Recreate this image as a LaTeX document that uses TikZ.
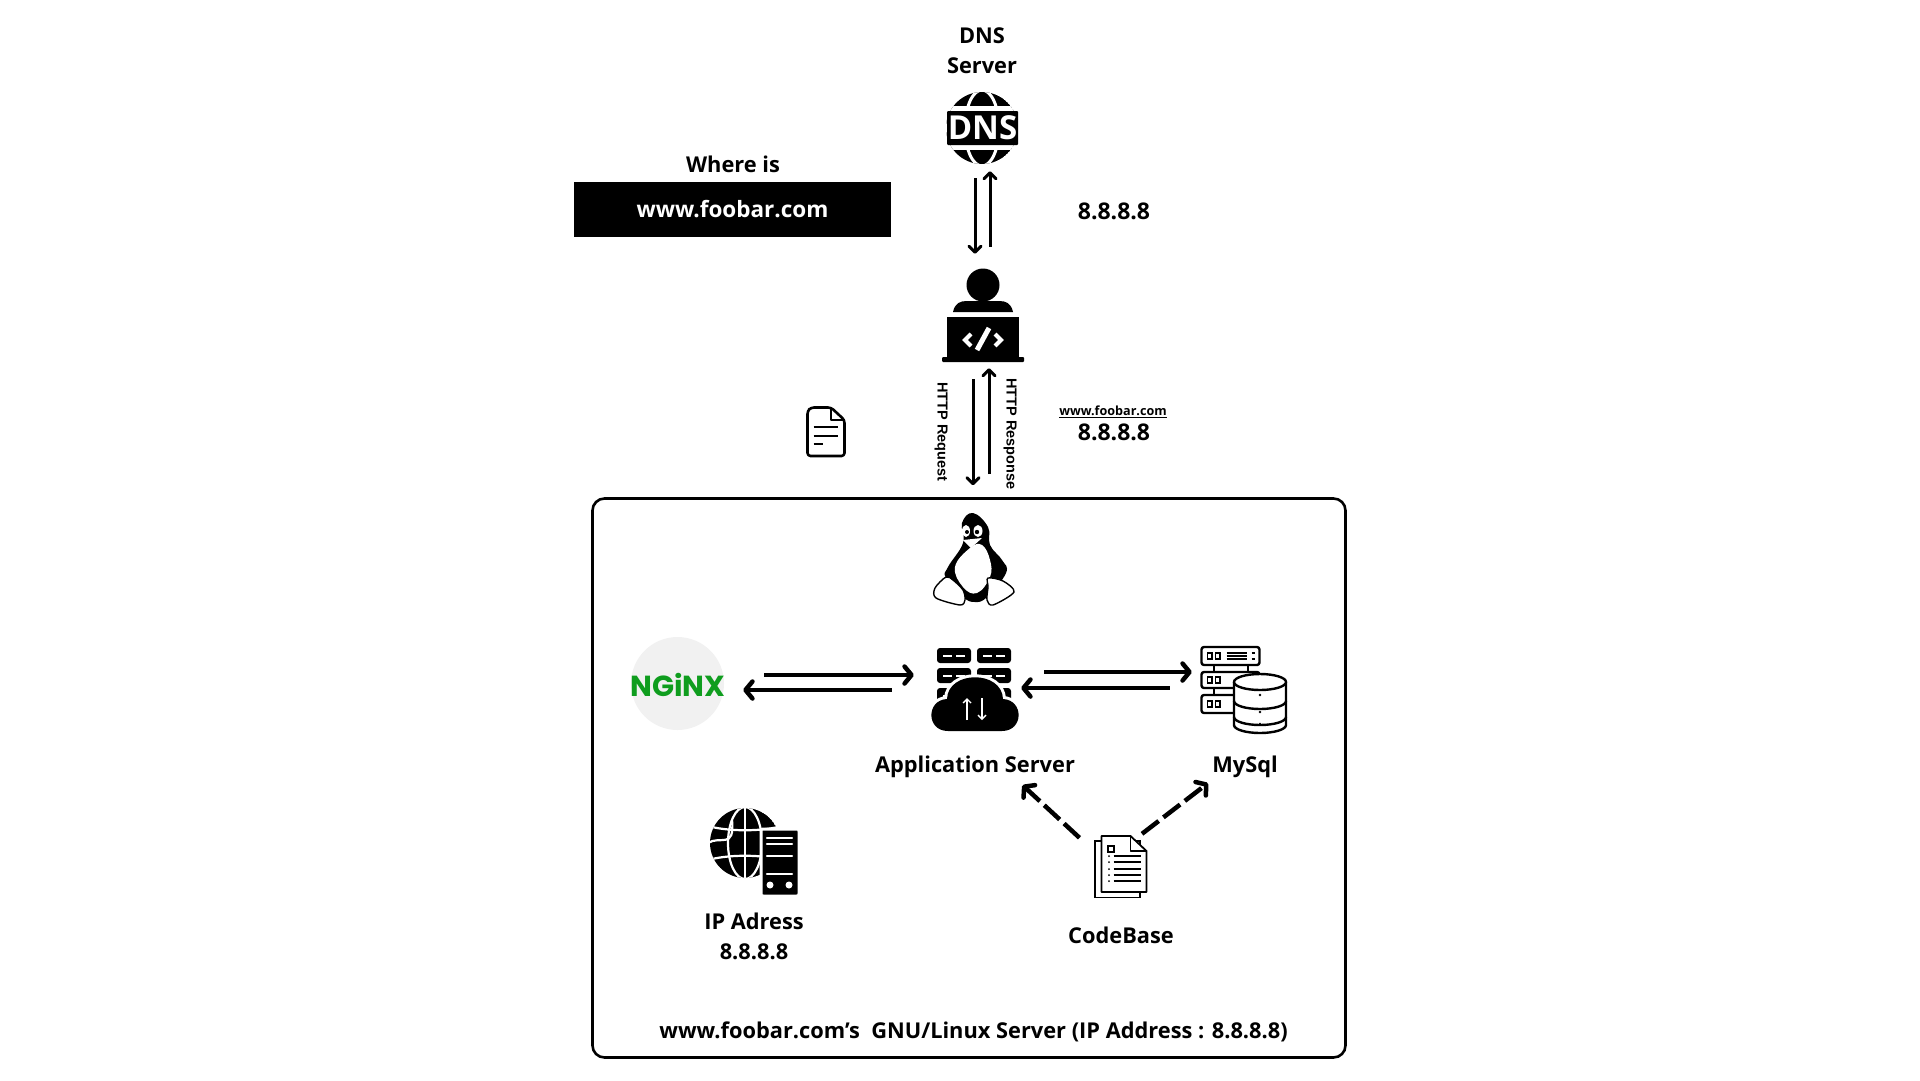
\documentclass[tikz,border=0pt]{standalone}
\usepackage{fontspec}
\setmainfont{Open Sans}
\newfontfamily\httpfont{Liberation Sans}
\newfontfamily\nginxfont{Poppins}
\usepackage{tikz}
\usetikzlibrary{arrows.meta}
\definecolor{nginxgreen}{HTML}{0F9D1E}
\definecolor{nginxgrey}{HTML}{F1F1F1}
\tikzset{
  lbl/.style={inner sep=0,align=center,font=\fontsize{21.8}{30}\selectfont\bfseries},
  iplbl/.style={inner sep=0,align=center,font=\fontsize{23}{30}\selectfont\bfseries},
  iconbox/.style={inner sep=0,minimum width=#1},
  thinarrow/.style={line width=3pt,-{Straight Barb[length=6pt,width=12pt,round]}},
  fatarrow/.style={line width=4.5pt,-{Straight Barb[length=7pt,width=17pt,round]}},
  dasharrow/.style={fatarrow,dash pattern=on 21pt off 6pt},
  httptxt/.style={inner sep=0,rotate=-90,font=\fontsize{14.5}{16}\selectfont\httpfont\bfseries},
  outline/.style={draw=black,line width=2.4pt,fill=white,line join=round}
}
\newcommand{\lblnode}{\node[lbl]}
\newcommand{\iconnode}[1]{\node[iconbox=#1]}
\newcommand{\cloudshape}{(948,731) .. controls (926,731) and (926,700) .. (947,699)
  .. controls (948,670) and (1002,670) .. (1003,699)
  .. controls (1024,700) and (1024,731) .. (1002,731) -- cycle}
\begin{document}
\begin{tikzpicture}[x=1pt,y=-1pt]
  \useasboundingbox (0,0) rectangle (1920,1080);
  % server frame
  \node[draw=black,line width=2.6pt,rounded corners=12pt,minimum width=753pt,minimum height=559pt,inner sep=0] (frame) at (969,778) {};
  % icon places
  \iconnode{72pt}[minimum height=72pt] (dns) at (982,128) {};
  \iconnode{82pt}[minimum height=93pt] (dev) at (983,314.5) {};
  \iconnode{93pt}[minimum height=93pt] (nginx) at (677.5,683.5) {};
  \iconnode{84pt}[minimum height=84pt] (app) at (975,689) {};
  \iconnode{86pt}[minimum height=86pt] (mysql) at (1246,690) {};
  \iconnode{52pt}[minimum height=62pt] (code) at (1123,867) {};
  % labels
  \lblnode (dnslbl) at (982,50.5) {DNS\\Server};
  \lblnode (whereis) at (733,164.5) {Where is};
  \node[fill=black,text=white,lbl,font=\fontsize{22.5}{30}\selectfont\bfseries,minimum width=317pt,minimum height=55pt] (url) at (732.5,209.5) {www.foobar.com};
  \node[iplbl] (ipa) at (1114,211) {8.8.8.8};
  \node[iplbl] (ipb) at (1114,432.5) {8.8.8.8};
  \node[inner sep=0,font=\fontsize{12.6}{15}\selectfont\bfseries] (urlb) at (1113,412) {\underline{www.foobar.com}};
  \node[httptxt] (req) at (941,432) {HTTP Request};
  \node[httptxt] (resp) at (1010,434) {HTTP Response};
  \lblnode (applbl) at (975,767) {Application Server};
  \lblnode (sqllbl) at (1245,767) {MySql};
  \lblnode (iplbl) at (754,936) {IP Adress\\8.8.8.8};
  \lblnode (codelbl) at (1121,935.5) {CodeBase};
  \node[lbl,inner sep=0] (framelbl) at (973.5,1032) {www.foobar.com’s\ \ GNU/Linux Server (IP Address : 8.8.8.8)};
  % connectors
  \draw[thinarrow] ([xshift=-7pt,yshift=-14pt]dns.south) -- ([xshift=-8pt,yshift=14pt]dev.north);
  \draw[thinarrow] ([xshift=7pt,yshift=21pt]dev.north) -- ([xshift=8pt,yshift=-7pt]dns.south);
  \draw[thinarrow] ([xshift=-10pt,yshift=-18pt]dev.south) -- ([xshift=4pt,yshift=12pt]frame.north);
  \draw[thinarrow] ([xshift=20pt,yshift=23pt]frame.north) -- ([xshift=6pt,yshift=-7pt]dev.south);
  \draw[fatarrow] ([xshift=40pt,yshift=8.5pt]nginx.east) -- ([xshift=-19pt,yshift=14pt]app.west);
  \draw[fatarrow] ([xshift=-41pt,yshift=-1pt]app.west) -- ([xshift=19pt,yshift=-6.5pt]nginx.east);
  \draw[fatarrow] ([yshift=17pt,xshift=27pt]app.east) -- ([yshift=18pt,xshift=-11pt]mysql.west);
  \draw[fatarrow] ([yshift=2pt,xshift=-33pt]mysql.west) -- ([yshift=1pt,xshift=4pt]app.east);
  \draw[dasharrow] ([xshift=-43.5pt,yshift=-2pt]code.north) -- ([xshift=47.5pt,yshift=-7pt]applbl.south);
  \draw[dasharrow] ([xshift=19pt,yshift=2pt]code.north) -- ([xshift=-37pt,yshift=-5pt]sqllbl.south);
  % dns globe
  \begin{scope}
    \clip (982,128) circle[radius=36];
    \fill (982,128) circle[radius=36];
    \draw[white,line width=3pt] (982,128) ellipse[x radius=17,y radius=38];
    \fill[white] (940,106) rectangle (1024,150);
  \end{scope}
  \fill[rounded corners=1pt] (947,111) rectangle (1018,145);
  \node[inner sep=0,text=white,font=\fontsize{33}{33}\selectfont\bfseries] (dnstxt) at (982.5,128) {DNS};
  % developer
  \fill (983,285) circle[radius=16.5];
  \fill (953,312) .. controls (955,303) and (960,301) .. (967,301) -- (999,301) .. controls (1006,301) and (1011,303) .. (1013,312) -- cycle;
  \fill (947,317) rectangle (1019,357);
  \fill[rounded corners=1pt] (942,357) rectangle (1024,362);
  \draw[white,line width=4pt] (971,334) -- (965,340) -- (971,346);
  \draw[white,line width=4pt] (995,334) -- (1001,340) -- (995,346);
  \draw[white,line width=5pt] (977,350) -- (989,328);
  % document
  \draw[line width=2.6pt,rounded corners=3pt,line join=round] (831,407.5) -- (811,407.5) -- (807.5,411) -- (807.5,456) -- (844.5,456) -- (844.5,420) -- cycle;
  \draw[line width=2.6pt,line join=round] (831,407.5) -- (831,420) -- (844.5,420);
  \foreach \ly/\lx in {427/838,436/838,444/823}
    \draw[line width=2.6pt] (813.5,\ly) -- (\lx,\ly);
  % penguin
  \fill plot[smooth cycle,tension=0.7] coordinates {(973,513) (962,523) (963,543) (948,567) (946,578) (963,597) (975,602) (987,597) (1006,573) (1002,560) (990,545) (988,527)};
  \fill[white] plot[smooth cycle,tension=0.7] coordinates {(970,548) (955,567) (963,587) (977,593) (990,577) (990,560) (982,545)};
  \draw[outline,line width=1.4pt] plot[smooth cycle,tension=0.5] coordinates {(946,577) (935,588) (936,598) (960,605) (965,600) (963,590) (953,580)};
  \draw[outline,line width=1.4pt] plot[smooth cycle,tension=0.5] coordinates {(988,578) (1003,581) (1014,592) (993,605) (987,600) (988,587)};
  \fill[white] (966,531) ellipse[x radius=4,y radius=6];
  \fill[white] (978,531) ellipse[x radius=4.5,y radius=6];
  \fill (967,532) circle[radius=2];
  \fill (977,532) circle[radius=2.2];
  \fill[white] (963,540) -- (982,538) -- (971,548) -- cycle;
  % nginx badge
  \fill[nginxgrey] (677.5,683.5) circle[radius=46.5];
  \node[inner sep=0,text=nginxgreen,font=\fontsize{29}{29}\selectfont\nginxfont\bfseries] (nginxtxt) at (678,685) {NGiNX};
  % application server
  \foreach \cx in {937,977}
    \foreach \cy in {648,668,688} {
      \fill[rounded corners=3pt] (\cx,\cy) rectangle ++(34,15);
      \draw[white,line width=2pt] (\cx+6,\cy+7.5) -- ++(9,0) (\cx+19,\cy+7.5) -- ++(9,0);
    }
  \draw[white,fill=white,line width=6pt] \cloudshape;
  \fill \cloudshape;
  \draw[white,line width=1.4pt,-{Straight Barb[length=4pt,width=8pt]}] (967,720) -- (967,698);
  \draw[white,line width=1.4pt,-{Straight Barb[length=4pt,width=8pt]}] (982,698) -- (982,720);
  % mysql
  \begin{scope}[xshift=-2.5pt]
  \foreach \ry/\rh in {647/18,672/16,695/18} {
    \draw[outline,rounded corners=2.5pt] (1204,\ry) rectangle ++(58,\rh);
    \draw[line width=1.8pt] (1210,\ry+\rh/2-3) rectangle ++(4.5,6) (1218,\ry+\rh/2-3) rectangle ++(4.5,6);
  }
  \draw[line width=2pt] (1216,665) -- (1216,672) (1250,665) -- (1250,672) (1216,688) -- (1216,695);
  \draw[line width=2pt] (1229,653) -- (1249,653) (1229,656) -- (1249,656) (1229,659) -- (1249,659) (1254,653) -- (1257,653) (1254,659) -- (1257,659);
  \draw[outline] (1236.5,682) -- (1236.5,725) arc[start angle=180,end angle=360,x radius=26,y radius=-8] -- (1288.5,682);
  \draw[outline] (1262.5,682) ellipse[x radius=26,y radius=8];
  \draw[line width=2.4pt] (1236.5,701) arc[start angle=180,end angle=360,x radius=26,y radius=-8];
  \draw[line width=2.4pt] (1236.5,717) arc[start angle=180,end angle=360,x radius=26,y radius=-8];
  \foreach \dy in {695,712,724}
    \fill (1262.5,\dy) circle[radius=1.3];
  \end{scope}
  % ip globe
  \begin{scope}
    \clip (745,843) circle[radius=35];
    \fill (745,843) circle[radius=35];
    \draw[white,line width=2.2pt] (745,843) ellipse[x radius=17,y radius=36];
    \draw[white,line width=2.2pt] (745,805) -- (745,880);
    \draw[white,line width=2.2pt] (705,825) .. controls (725,832) and (765,832) .. (785,825);
    \draw[white,line width=2.2pt] (705,861) .. controls (725,854) and (765,854) .. (785,861);
    \draw[white,line width=2.2pt] (708,843) .. controls (720,835) and (735,850) .. (732,820);
  \end{scope}
  \draw[white,fill=black,line width=3pt,rounded corners=2pt] (761,829) rectangle (799,896);
  \draw[white,line width=2.2pt,line cap=round] (767,838) -- (792,838) (767,844) -- (792,844) (767,856) -- (792,856) (767,874) -- (792,874);
  \fill[white] (770,885) circle[radius=3.5] (789,885) circle[radius=3.5];
  % codebase
  \begin{scope}[xshift=-2.5pt]
  \draw[line width=1.8pt,fill=white] (1097.5,841) rectangle (1142.5,897.5);
  \draw[line width=1.8pt,fill=white,line join=round] (1104,836) -- (1133,836) -- (1149,851) -- (1149,892) -- (1104,892) -- cycle;
  \draw[line width=1.8pt,line join=round] (1133,836) -- (1133,851) -- (1149,851);
  \draw[line width=1.5pt] (1110.5,846) rectangle (1116.5,852);
  \foreach \ky in {856,862,869,875,881} {
    \draw[line width=1.6pt] (1116,\ky) -- (1143,\ky);
    \fill (1111.5,\ky) circle[radius=1];
  }
  \end{scope}
\end{tikzpicture}
\end{document}
